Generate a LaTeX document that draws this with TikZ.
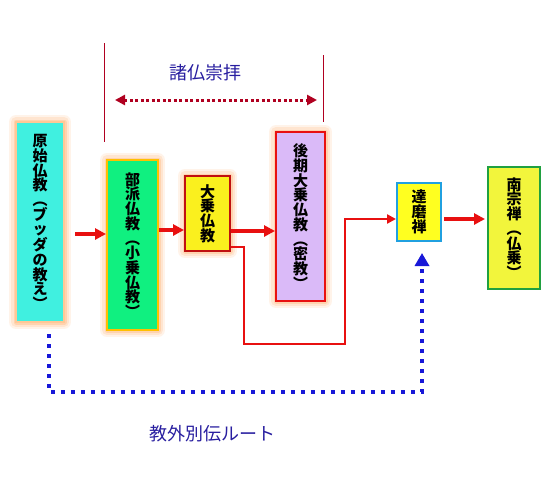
\documentclass[tikz,border=0pt]{standalone}
\usepackage{fontspec}
\newfontfamily\jp{Noto Sans CJK JP}
\usetikzlibrary{arrows.meta}
\definecolor{cgen}{RGB}{64,240,224}
\definecolor{cbuha}{RGB}{16,240,128}
\definecolor{cyel}{RGB}{250,240,30}
\definecolor{cyel2}{RGB}{255,255,32}
\definecolor{cyel3}{RGB}{242,245,60}
\definecolor{clav}{RGB}{218,186,248}
\definecolor{cglow}{RGB}{255,160,80}
\definecolor{cgenb}{RGB}{255,200,150}
\definecolor{cgold}{RGB}{255,192,0}
\definecolor{cdred}{RGB}{192,16,16}
\definecolor{cred}{RGB}{232,16,16}
\definecolor{cbrd}{RGB}{176,0,32}
\definecolor{ccyanb}{RGB}{32,160,224}
\definecolor{cgreenb}{RGB}{32,160,64}
\definecolor{cblue}{RGB}{24,24,216}
\definecolor{clabel}{RGB}{40,30,160}
\begin{document}
\begin{tikzpicture}[x=1pt,y=-1pt,
  box/.style={rectangle, inner sep=0pt, align=center, line width=2pt,
    font=\jp\bfseries\fontsize{15}{14.7}\selectfont},
  glow/.style={
    preaction={draw=cglow, line width=14pt, opacity=0.12, line join=round},
    preaction={draw=cglow, line width=10pt, opacity=0.16, line join=round},
    preaction={draw=cglow, line width=5pt, opacity=0.25, line join=round}},
  bigred/.style={draw=cred, line width=3.5pt, -{Triangle[length=11pt,width=11pt]}},
  thinred/.style={draw=cred, line width=2.4pt, -{Triangle[length=9pt,width=9pt]}},
  bluedot/.style={draw=cblue, line width=4pt, dash pattern=on 4pt off 6pt, -{Triangle[length=13pt,width=14pt]}},
  reddot/.style={draw=cbrd, line width=3pt, dash pattern=on 3pt off 2.5pt, {Triangle[length=10pt,width=10pt]}-{Triangle[length=10pt,width=10pt]}},
  toprule/.style={draw=cbrd, line width=1.8pt},
  lbl/.style={font=\jp\fontsize{18}{20}\selectfont, text=clabel, inner sep=0pt}
]
\useasboundingbox (0,0) rectangle (557,477);
\fill[white] (0,0) rectangle (557,477);

% boxes
\node[box, glow, fill=cgen, draw=cgenb, minimum width=48pt, minimum height=200pt] (gen) at (40,222)
  {原\\始\\仏\\教\\︵\\ブ\\ッ\\ダ\\の\\教\\え\\︶};
\node[box, glow, fill=cbuha, draw=cgold, minimum width=51pt, minimum height=170pt] (buha) at (132.5,245)
  {部\\派\\仏\\教\\︵\\小\\乗\\仏\\教\\︶};
\node[box, glow, fill=cyel, draw=cdred, minimum width=45pt, minimum height=75pt] (daijo) at (207.5,213.5)
  {大\\乗\\仏\\教};
\node[box, glow, fill=clav, draw=cred, minimum width=49pt, minimum height=169pt] (koki) at (300.5,216.5)
  {後\\期\\大\\乗\\仏\\教\\︵\\密\\教\\︶};
\node[box, fill=cyel2, draw=ccyanb, minimum width=44pt, minimum height=58pt] (daruma) at (419,212)
  {達\\磨\\禅};
\node[box, fill=cyel3, draw=cgreenb, minimum width=52pt, minimum height=122pt] (nanshu) at (514,228)
  {南\\宗\\禅\\︵\\仏\\乗\\︶};

% main arrows
\coordinate (a1) at (0,234);
\coordinate (a2) at (0,230);
\coordinate (a3) at (0,231);
\coordinate (a4) at (0,219);
\draw[bigred, shorten <=10pt] (gen.east |- a1) -- (buha.west |- a1);
\draw[bigred] (buha.east |- a2) -- (daijo.west |- a2);
\draw[bigred] (daijo.east |- a3) -- (koki.west |- a3);
\draw[bigred, shorten <=2pt, shorten >=2pt] (daruma.east |- a4) -- (nanshu.west |- a4);

% thin red route
\coordinate (p1) at (244,247);
\coordinate (p2) at (244,344);
\coordinate (p3) at (345,344);
\coordinate (p4) at (345,219);
\draw[thinred] (daijo.east |- p1) -- (p1) -- (p2) -- (p3) -- (p4) -- (daruma.west |- p4);

% blue dotted route
\coordinate (b1) at (49,392);
\coordinate (b2) at (422,392);
\draw[bluedot] ([xshift=9pt,yshift=-11pt]gen.south) -- (b1) -- (b2) -- ([xshift=3pt,yshift=-11pt]daruma.south);

% top brackets
\coordinate (t1) at (104.5,43);
\coordinate (t2) at (104.5,142);
\coordinate (t3) at (323.5,55);
\coordinate (t4) at (323.5,122);
\draw[toprule] (t1) -- (t2);
\draw[toprule] (t3) -- (t4);
\coordinate (d1) at (115,100);
\coordinate (d2) at (317,100);
\draw[reddot] (d1) -- (d2);

% labels
\node[lbl] (l1) at (205,73) {諸仏崇拝};
\node[lbl] (l2) at (212,434) {教外別伝ルート};
\end{tikzpicture}
\end{document}
